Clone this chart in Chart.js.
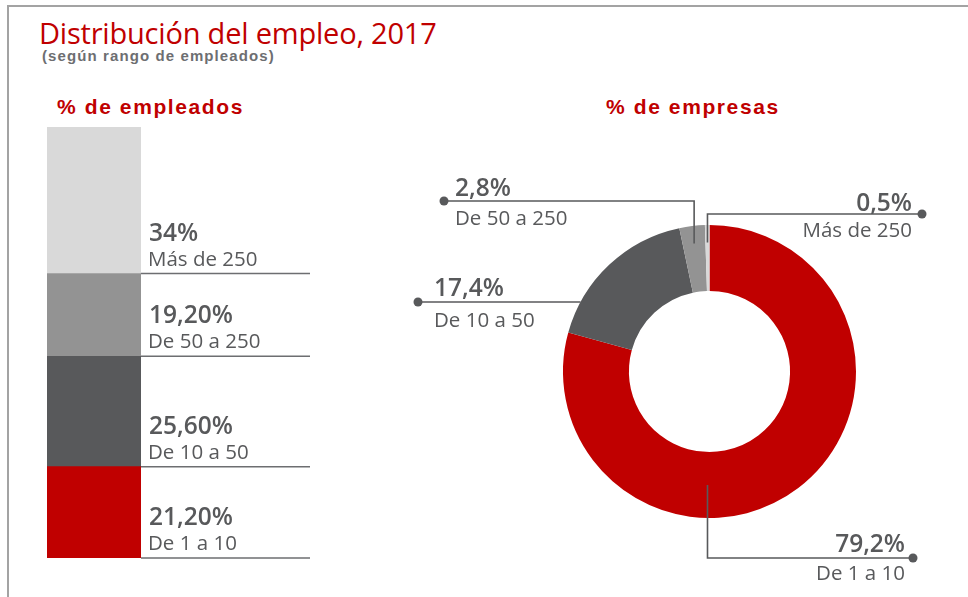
<!DOCTYPE html>
<html lang="es">
<head>
<meta charset="utf-8">
<title>Distribución del empleo, 2017</title>
<script src="https://cdn.jsdelivr.net/npm/chart.js@4/dist/chart.umd.min.js"></script>
<style>
  html, body { margin: 0; padding: 0; background: #fff; }
  body { width: 968px; height: 597px; position: relative; overflow: hidden; font-family: "Open Sans", sans-serif; }
  .frame { position: absolute; left: 7px; top: 5px; width: 970px; height: 600px;
           border-top: 2px solid #a3a3a3; border-left: 2px solid #a3a3a3; }
  .title { position: absolute; left: 39px; top: 13px; margin: 0; font-size: 29px; font-weight: 400;
           color: #c00000; letter-spacing: -0.2px; white-space: nowrap; }
  .subtitle { position: absolute; left: 42px; top: 47px; font-family: "Liberation Sans", Arial, sans-serif;
              font-size: 15px; font-weight: 700; color: #6d6e71; letter-spacing: 1.1px; white-space: nowrap; }
  .head { position: absolute; font-family: "Liberation Sans", Arial, sans-serif; font-size: 21px;
          font-weight: 700; color: #c00000; letter-spacing: 1.6px; white-space: nowrap; }
  canvas { position: absolute; left: 0; top: 0; }
</style>
</head>
<body>
<div class="frame"></div>
<h1 class="title">Distribución del empleo, 2017</h1>
<div class="subtitle">(según rango de empleados)</div>
<div class="head" style="left:57px;top:95px;">% de empleados</div>
<div class="head" style="left:606px;top:95px;">% de empresas</div>
<canvas id="bar" width="968" height="597"></canvas>
<canvas id="donut" width="968" height="597"></canvas>
<script>
// --- Daten ---
const CATEGORIES = ['De 1 a 10', 'De 10 a 50', 'De 50 a 250', 'Más de 250'];
const EMPLEADOS = [21.2, 25.6, 19.2, 34];
const EMPLEADOS_TXT = ['21,20%', '25,60%', '19,20%', '34%'];
const EMPRESAS = [79.2, 17.4, 2.8, 0.5];
const EMPRESAS_TXT = ['79,2%', '17,4%', '2,8%', '0,5%'];

const COLORS = ['#c00000', '#58595b', '#939393', '#d9d9d9'];
const INK = '#58595b';
const NUM_FONT = '600 24.5px "Open Sans", sans-serif';
const SUB_FONT = '400 20.5px "Open Sans", sans-serif';

// Linien + Beschriftung rechts neben dem gestapelten Balken.
const barLabels = {
  id: 'barLabels',
  afterDraw(chart) {
    const ctx = chart.ctx;
    ctx.save();
    chart.data.datasets.forEach((ds, i) => {
      const el = chart.getDatasetMeta(i).data[0];
      if (!el) return;
      const right = el.x + el.width / 2;
      ctx.strokeStyle = '#6d6e71';
      ctx.lineWidth = 1.5;
      ctx.beginPath();
      ctx.moveTo(right, el.base);
      ctx.lineTo(310, el.base);
      ctx.stroke();
      ctx.fillStyle = INK;
      ctx.textAlign = 'left';
      ctx.textBaseline = 'alphabetic';
      ctx.font = NUM_FONT;
      ctx.fillText(EMPLEADOS_TXT[i], right + 8, el.base - 33);
      ctx.font = SUB_FONT;
      ctx.fillText(CATEGORIES[i], right + 7, el.base - 8);
    });
    ctx.restore();
  },
};

new Chart(document.getElementById('bar'), {
  type: 'bar',
  data: {
    labels: ['Empleados'],
    datasets: CATEGORIES.map((c, i) => ({
      label: c,
      data: [EMPLEADOS[i]],
      backgroundColor: COLORS[i],
      borderWidth: 0,
      barPercentage: 1,
      categoryPercentage: 1,
    })),
  },
  options: {
    responsive: false,
    animation: false,
    events: [],
    layout: { padding: { left: 47, right: 827, top: 127, bottom: 39 } },
    plugins: { legend: { display: false }, tooltip: { enabled: false } },
    scales: {
      x: { stacked: true, display: false },
      y: { stacked: true, display: false, min: 0, max: 100 },
    },
  },
  plugins: [barLabels],
});

// Führungslinien der Ringgrafik: Anker am Segment, Knick, Punkt, Text.
const donutLabels = {
  id: 'donutLabels',
  afterDraw(chart) {
    const ctx = chart.ctx;
    const arcs = chart.getDatasetMeta(0).data;
    const a0 = arcs[0];
    const cx = a0.x, cy = a0.y, R = a0.outerRadius, r = a0.innerRadius;
    const mid = (el) => (el.startAngle + el.endAngle) / 2;
    const at = (el, rad) => ({ x: cx + Math.cos(mid(el)) * rad, y: cy + Math.sin(mid(el)) * rad });

    const paths = [];
    // 79,2 % – senkrecht unter dem Mittelpunkt, dann nach rechts
    paths.push({ pts: [{ x: cx - 2, y: cy + (R + r) / 2 }, { x: cx - 2, y: 558 }, { x: 913, y: 558 }],
                 tx: 905, align: 'right', ny: 552, sy: 580 });
    // 17,4 % – waagerecht vom Außenrand nach links
    const y1 = 302;
    paths.push({ pts: [{ x: cx - Math.sqrt(R * R - (y1 - cy) ** 2), y: y1 }, { x: 418, y: y1 }],
                 tx: 434, align: 'left', ny: 296, sy: 327 });
    // 2,8 % – nach oben, dann nach links
    const p2 = at(arcs[2], R * 0.88);
    paths.push({ pts: [p2, { x: p2.x, y: 201 }, { x: 444, y: 201 }],
                 tx: 455, align: 'left', ny: 196, sy: 225 });
    // 0,5 % – nach oben, dann nach rechts
    const p3 = at(arcs[3], R * 0.88);
    paths.push({ pts: [p3, { x: p3.x, y: 214 }, { x: 922, y: 214 }],
                 tx: 912, align: 'right', ny: 211, sy: 237 });

    ctx.save();
    paths.forEach((p, i) => {
      ctx.strokeStyle = INK;
      ctx.lineWidth = 1.6;
      ctx.beginPath();
      p.pts.forEach((pt, k) => (k ? ctx.lineTo(pt.x, pt.y) : ctx.moveTo(pt.x, pt.y)));
      ctx.stroke();
      const end = p.pts[p.pts.length - 1];
      ctx.fillStyle = INK;
      ctx.beginPath();
      ctx.arc(end.x, end.y, 4.5, 0, Math.PI * 2);
      ctx.fill();
      ctx.textAlign = p.align;
      ctx.textBaseline = 'alphabetic';
      ctx.font = NUM_FONT;
      ctx.fillText(EMPRESAS_TXT[i], p.tx, p.ny);
      ctx.font = SUB_FONT;
      ctx.fillText(CATEGORIES[i], p.tx, p.sy);
    });
    ctx.restore();
  },
};

new Chart(document.getElementById('donut'), {
  type: 'doughnut',
  data: {
    labels: CATEGORIES,
    datasets: [{
      data: EMPRESAS,
      backgroundColor: COLORS,
      borderWidth: 0,
      hoverOffset: 0,
      offset: 0,
    }],
  },
  options: {
    responsive: false,
    animation: false,
    events: [],
    cutout: '55%',
    layout: { padding: { left: 563, right: 112, top: 225, bottom: 79 } },
    plugins: { legend: { display: false }, tooltip: { enabled: false } },
  },
  plugins: [donutLabels],
});
</script>
</body>
</html>
